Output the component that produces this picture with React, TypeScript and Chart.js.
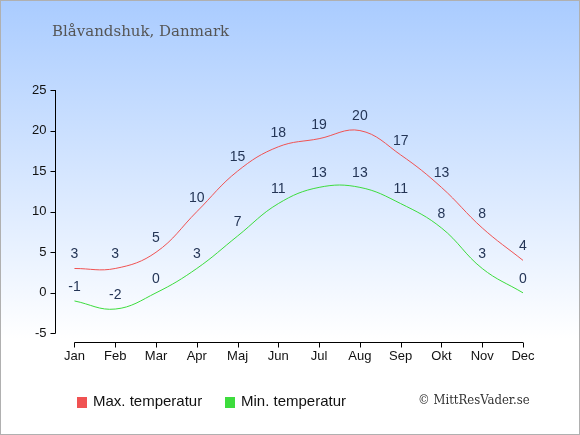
import React, { useEffect, useRef } from 'react';
import { Chart, registerables } from 'chart.js';

Chart.register(...registerables);

const months = ['Jan', 'Feb', 'Mar', 'Apr', 'Maj', 'Jun', 'Jul', 'Aug', 'Sep', 'Okt', 'Nov', 'Dec'];
const maxTemp = [3, 3, 5, 10, 15, 18, 19, 20, 17, 13, 8, 4];
const minTemp = [-1, -2, 0, 3, 7, 11, 13, 13, 11, 8, 3, 0];
const yTicks = [-5, 0, 5, 10, 15, 20, 25];

const titleText = 'Blåvandshuk, Danmark';
const copyrightText = '© MittResVader.se';

const RED = '#f05252';
const GREEN = '#3ddc3d';

// akser tegnes lidt væk fra plotområdet, som i originalen
const axesPlugin = {
  id: 'detachedAxes',
  afterDraw(chart: any) {
    const { ctx, chartArea } = chart;
    const xs = chart.scales.x;
    const ys = chart.scales.y;
    ctx.save();
    ctx.strokeStyle = '#000';
    ctx.lineWidth = 1;
    const ax = Math.round(chartArea.left - 19) + 0.5;
    ctx.beginPath();
    ctx.moveTo(ax, ys.getPixelForValue(yTicks[yTicks.length - 1]));
    ctx.lineTo(ax, ys.getPixelForValue(yTicks[0]));
    yTicks.forEach((v) => {
      const py = Math.round(ys.getPixelForValue(v)) + 0.5;
      ctx.moveTo(ax - 5, py);
      ctx.lineTo(ax, py);
    });
    const ay = Math.round(chartArea.bottom + 9) + 0.5;
    ctx.moveTo(xs.getPixelForValue(0), ay);
    ctx.lineTo(xs.getPixelForValue(months.length - 1), ay);
    months.forEach((_, i) => {
      const px = Math.round(xs.getPixelForValue(i)) + 0.5;
      ctx.moveTo(px, ay);
      ctx.lineTo(px, ay + 5);
    });
    ctx.stroke();
    ctx.restore();
  },
};

const labelsPlugin = {
  id: 'pointLabels',
  afterDatasetsDraw(chart: any) {
    const { ctx } = chart;
    ctx.save();
    ctx.font = '14px "Liberation Sans", Arial, sans-serif';
    ctx.fillStyle = '#243556';
    ctx.textAlign = 'center';
    ctx.textBaseline = 'middle';
    chart.data.datasets.forEach((ds: any, i: number) => {
      const meta = chart.getDatasetMeta(i);
      meta.data.forEach((pt: any, j: number) => {
        ctx.fillText(String(ds.data[j]), pt.x, pt.y - 14);
      });
    });
    ctx.restore();
  },
};

const decorPlugin = {
  id: 'decor',
  beforeDraw(chart: any) {
    const { ctx, width, height } = chart;
    const g = ctx.createLinearGradient(0, 0, 0, height);
    g.addColorStop(0, '#aaccff');
    g.addColorStop(0.78, '#ffffff');
    g.addColorStop(1, '#ffffff');
    ctx.save();
    ctx.fillStyle = g;
    ctx.fillRect(0, 0, width, height);
    ctx.restore();
  },
  afterDraw(chart: any) {
    const { ctx } = chart;
    ctx.save();
    ctx.textBaseline = 'middle';
    ctx.textAlign = 'left';
    ctx.fillStyle = '#555';
    ctx.font = '15px "DejaVu Serif", serif';
    ctx.fillText(titleText, 51, 31);

    ctx.font = '15px "Liberation Sans", Arial, sans-serif';
    let lx = 76;
    chart.data.datasets.forEach((ds: any) => {
      ctx.fillStyle = ds.borderColor;
      ctx.fillRect(lx, 396, 10, 11);
      ctx.fillStyle = '#111';
      ctx.fillText(ds.label, lx + 16, 401);
      lx += 148;
    });

    ctx.fillStyle = '#333';
    ctx.font = '13px "DejaVu Serif Condensed", "DejaVu Serif", serif';
    ctx.fillText(copyrightText, 417, 400);
    ctx.restore();
  },
};

const TempChart = () => {
  const chartRef = useRef<HTMLCanvasElement>(null);
  const chartInstanceRef = useRef<Chart | null>(null);

  useEffect(() => {
    document.body.style.margin = '0';
    const canvas = chartRef.current;
    if (!canvas) return;

    chartInstanceRef.current = new Chart(canvas, {
      type: 'line',
      data: {
        labels: months,
        datasets: [
          {
            label: 'Max. temperatur',
            data: maxTemp,
            borderColor: RED,
            borderWidth: 1,
            pointRadius: 0,
            fill: false,
            tension: 0.4,
          },
          {
            label: 'Min. temperatur',
            data: minTemp,
            borderColor: GREEN,
            borderWidth: 1,
            pointRadius: 0,
            fill: false,
            tension: 0.4,
          },
        ],
      },
      options: {
        responsive: false,
        animation: false,
        layout: { padding: { left: 3, right: 56, top: 89, bottom: 55 } },
        plugins: {
          legend: { display: false },
          title: { display: false },
          tooltip: { enabled: false },
        },
        scales: {
          x: {
            offset: false,
            grid: { display: false, drawTicks: false },
            border: { display: false },
            ticks: {
              color: '#111',
              padding: 15,
              maxRotation: 0,
              font: { family: '"Liberation Sans", Arial, sans-serif', size: 13 },
            },
          },
          y: {
            min: -5,
            max: 25,
            grid: { display: false, drawTicks: false },
            border: { display: false },
            afterBuildTicks: (scale: any) => {
              scale.ticks = yTicks.map((v) => ({ value: v }));
            },
            ticks: {
              color: '#111',
              padding: 28,
              font: { family: '"Liberation Sans", Arial, sans-serif', size: 13 },
            },
          },
        },
      },
      plugins: [decorPlugin, axesPlugin, labelsPlugin],
    });

    return () => {
      if (chartInstanceRef.current) {
        chartInstanceRef.current.destroy();
      }
    };
  }, []);

  return (
    <div style={{ width: 580, height: 435, border: '1px solid #b0b0b0', boxSizing: 'border-box' }}>
      <canvas ref={chartRef} width={578} height={433}></canvas>
    </div>
  );
};

export default function App() {
  return <TempChart />;
}
